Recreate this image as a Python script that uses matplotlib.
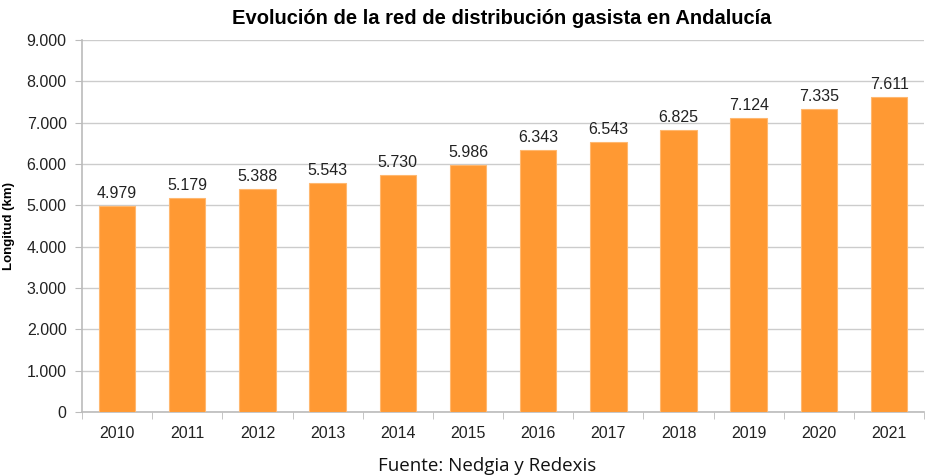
import matplotlib.pyplot as plt
from matplotlib.ticker import FuncFormatter, FixedLocator
import numpy as np

years = ["2010", "2011", "2012", "2013", "2014", "2015",
         "2016", "2017", "2018", "2019", "2020", "2021"]
longitud = [4979, 5179, 5388, 5543, 5730, 5986,
            6343, 6543, 6825, 7124, 7335, 7611]

plt.rcParams['font.family'] = ['Liberation Sans', 'DejaVu Sans']

fig = plt.figure(figsize=(9.25, 4.76), dpi=100)
ax = fig.add_axes([0.0886, 0.1345, 0.9105, 0.7815])

x = np.arange(len(years))
bars = ax.bar(x, longitud, width=0.52, color='#FF9933', edgecolor='#FFB870',
              linewidth=0.8, zorder=3)

def miles(v, pos=None):
    return f"{int(v):,}".replace(",", ".")

for xi, v in zip(x, longitud):
    ax.text(xi, v + 120, miles(v), ha='center', va='bottom',
            fontsize=11.5, color='#222222')

ax.set_xlim(-0.5, len(years) - 0.5)
ax.set_ylim(0, 9000)
ax.set_yticks(np.arange(0, 9001, 1000))
ax.yaxis.set_major_formatter(FuncFormatter(miles))
ax.set_xticks(x)
ax.set_xticklabels(years)
ax.xaxis.set_minor_locator(FixedLocator(np.arange(-0.5, len(years), 1.0)))
ax.tick_params(axis='x', which='major', length=0, pad=10, labelsize=11.5,
               labelcolor='#222222')
ax.tick_params(axis='x', which='minor', length=5, color='#BBBBBB')
ax.tick_params(axis='y', length=5, color='#BBBBBB', labelsize=11.5,
               labelcolor='#222222', pad=6)

ax.grid(axis='y', color='#CCCCCC', linewidth=1, zorder=0)
for s in ['top', 'right']:
    ax.spines[s].set_visible(False)
ax.spines['left'].set_color('#BBBBBB')
ax.spines['bottom'].set_color('#BBBBBB')
ax.spines['left'].set_linewidth(1.2)
ax.spines['bottom'].set_linewidth(1.2)

ax.set_ylabel("Longitud (km)", fontsize=9.5, fontweight='bold', labelpad=8)
fig.text(0.542, 0.962, "Evolución de la red de distribución gasista en Andalucía",
         ha='center', va='center', fontsize=14.5, fontweight='bold')
fig.text(0.527, 0.022, "Fuente: Nedgia y Redexis", ha='center', va='center',
         fontsize=13.5, family=['Open Sans', 'DejaVu Sans'], color='#111111')

fig.savefig("out.png", dpi=100)
